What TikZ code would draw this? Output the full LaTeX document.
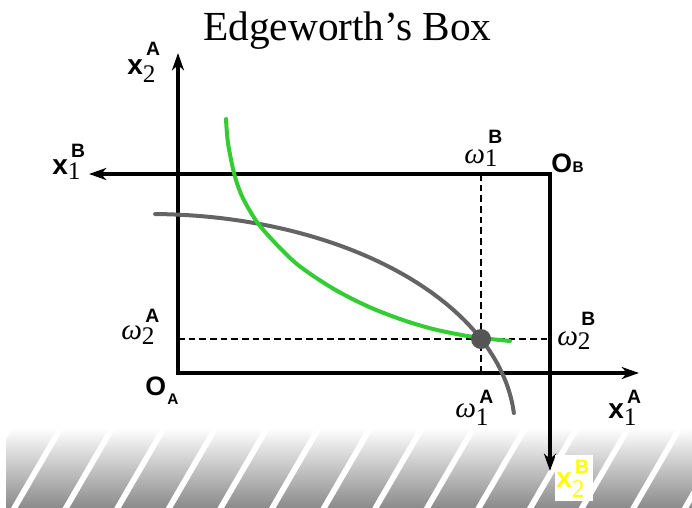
\documentclass[tikz,border=0pt]{standalone}
\usepackage{fontspec}
\setmainfont{Liberation Serif}
\newfontfamily\sansf{Liberation Sans}
\usetikzlibrary{arrows.meta}
\definecolor{curvegreen}{RGB}{51,204,51}
\definecolor{curvegray}{RGB}{100,100,100}
\definecolor{dotgray}{RGB}{85,85,85}
\definecolor{labyellow}{RGB}{255,255,0}
\definecolor{bandgray}{RGB}{140,140,140}
\newcommand\supF{\sansf\bfseries\fontsize{14.5}{14.5}\selectfont}
\newcommand\subF{\rmfamily\mdseries\upshape\fontsize{19}{19}\selectfont}
\newcommand\xF{\sansf\bfseries\fontsize{21}{21}\selectfont}
\newcommand\wF{\rmfamily\itshape\fontsize{22}{22}\selectfont}
\newcommand\oF{\sansf\bfseries\fontsize{20}{20}\selectfont}
\newcommand\osubF{\sansf\bfseries\fontsize{11.5}{11.5}\selectfont}
\newcommand\ilab[5]{#1\rlap{\hspace{2.5pt}\raisebox{#5}{\supF #3}}\raisebox{-#4}{\subF #2}}
\tikzset{
  axis/.style={line width=2.4pt, line join=miter, {Stealth[length=13pt,width=9pt,inset=4pt]}-{Stealth[length=13pt,width=9pt,inset=4pt]}},
  guide/.style={line width=1pt, dash pattern=on 5pt off 3pt},
  greencurve/.style={curvegreen, line width=3pt, line cap=round},
  graycurve/.style={curvegray, line width=3pt, line cap=round},
  dot/.style={circle, fill=dotgray, inner sep=0pt, minimum size=15pt},
  lab/.style={anchor=base west, inner sep=0pt}
}
\begin{document}
\begin{tikzpicture}[x=0.75pt, y=-0.75pt]
\useasboundingbox (0,0) rectangle (692,507);
% bottom band
\begin{scope}
  \clip (6,428) rectangle (692,507);
  \shade[top color=white, bottom color=bandgray] (6,428) rectangle (692,507);
  \foreach \k in {-1,...,13}
    \draw[white, line width=4.3pt] ({12+51.6*\k},512) -- ({12+51.6*\k+0.58*84},428);
\end{scope}
% title
\node[lab] (title) at (203,40) {\fontsize{31}{31}\selectfont Edgeworth's Box};
% coordinates
\coordinate (OA) at (178,373);
\coordinate (yA) at (178,53);
\coordinate (xA) at (639,373);
\coordinate (OBc) at (550,174);
\coordinate (xB) at (89,174);
\coordinate (yB) at (550,471);
\coordinate (w1B) at (481,174);
\coordinate (w1A) at (481,373);
\coordinate (w2A) at (178,339);
\coordinate (w2B) at (550,339);
% guides
\draw[guide] (w1B) -- (w1A);
\draw[guide] (w2A) -- (w2B);
% axes
\draw[axis] (yA) -- (OA) -- (xA);
\draw[axis] (xB) -- (OBc) -- (yB);
% curves
\draw[graycurve] plot[domain=89.2:4.5, samples=70, smooth] ({150+365*cos(\x)},{430-216*sin(\x)});
\draw[greencurve] plot[smooth, tension=0.55] coordinates {(226,119) (228,143) (234,173) (241,194) (250,211) (260,226) (280,248) (300,266.5) (333,288.5) (367,306) (400,319) (433,329) (467,336) (481,338) (510,341)};
\node[dot] (E) at (481,339) {};
% labels
\node[lab] (x2A) at (127,74) {\ilab{{\xF x}}{2}{A}{6pt}{14pt}};
\node[lab] (x1B) at (52,174) {\ilab{{\xF x}}{1}{B}{4pt}{12.75pt}};
\node[lab] (w1Bl) at (464,163) {\ilab{{\wF ω}}{1}{B}{2.25pt}{15pt}};
\node[lab] (OB) at (551,172) {{\oF O}\hspace{0.5pt}{\osubF B}};
\node[lab] (w2Al) at (121,339) {\ilab{{\wF ω}}{2}{A}{3.75pt}{12.75pt}};
\node[lab] (OAl) at (145,395) {{\oF O}\hspace{1pt}\raisebox{-6.75pt}{\osubF A}};
\node[lab] (w1Al) at (455,417) {\ilab{{\wF ω}}{1}{A}{6pt}{10.5pt}};
\node[lab] (w2Bl) at (557,345) {\ilab{{\wF ω}}{2}{B}{3pt}{15pt}};
\node[lab] (x1A) at (608,418) {\ilab{{\xF x}}{1}{A}{5.25pt}{11.25pt}};
\fill[white] (555,455) rectangle (593,501);
\node[lab, text=labyellow] (x2B) at (556,487) {\ilab{{\xF x}}{2}{B}{7.5pt}{10.5pt}};
\end{tikzpicture}
\end{document}
